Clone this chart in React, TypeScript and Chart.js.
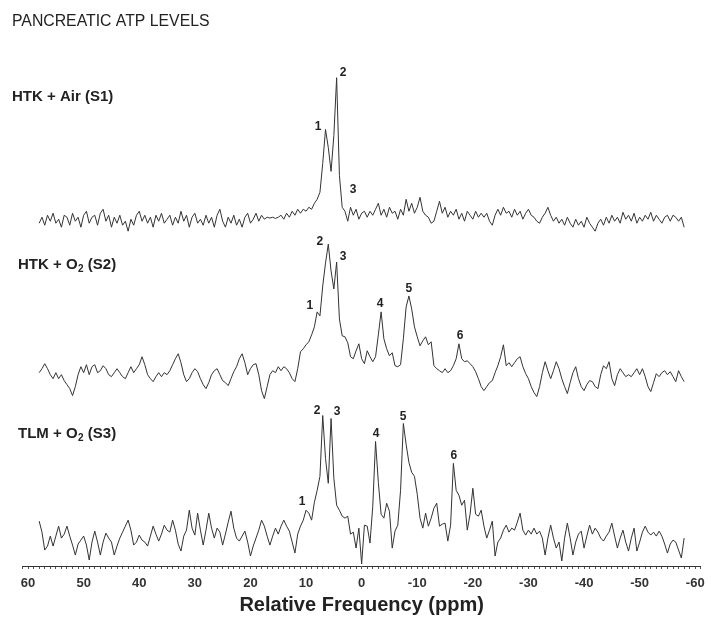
import React, { useEffect, useRef } from "react";
import { Chart, registerables } from "chart.js";

Chart.register(...registerables);

const FONT = '"Liberation Sans", Arial, Helvetica, sans-serif';
const TEXT_COLOR = "#222";
const LINE_COLOR = "#333";

const TITLE = "PANCREATIC ATP LEVELS";
const X_TITLE = "Relative Frequency (ppm)";

// chemical-shift grid: 58 ppm down to -58 ppm, 0.5 ppm apart
const PPM_START = 58;
const PPM_STEP = 0.5;

// intensities (arbitrary units) relative to each spectrum's baseline
const S1 = [
  -1, 0.5, -1.5, 1, -0.5, 1.5, -1, 0, -2, 1, 0.5, -1.5, 1.5, -0.5, 0.5, -2, 1, 2, -1, 0.5,
  1, -1.5, 1.5, 2.5, -0.5, 1, -2, 0.5, -1, 1, -1.5, -0.5, -3, 0, -1.5, 1, 2, -0.5, 1, -1,
  0.5, -2, 1, -0.5, 1.5, -1, 0, 1, -1.5, 0.5, -1, 2, -0.5, 1, -2, 0.5, 1.5, -1, 0, -1.5,
  1, -1, 0.5, -2, 1, 2.5, -0.5, -2, 0.5, -1, 1, -1.5, 0, -2, 0.5, 1.5, -1, 0, 1.5, -0.5,
  1, 0, 0.5, 0.3, 0.5, 0.2, 0.5, 1, 0, 1.5, 0.5, 2, 1, 2.5, 1.5, 2.5, 2, 3, 2.5, 4,
  5, 6.75, 14, 22.5, 18, 12, 21, 35.5, 11, 3, 2, -0.5, 3, 1, 2.5, 0, 1.5, 2, 0.5, 2,
  1, 2.5, 4, 1, 2.5, 0.5, 3, 1.5, 2, 0, 2.5, 1, 5, 2, 4, 1.5, 3, 5.5, 2, 1,
  0.5, -1, -0.5, 2, 4.5, 1.5, 3, 0.5, 2, 1, 2.5, 0, 1.5, -0.5, 2, 1, 0, 2, 0.5, 1.5,
  0.5, 1.5, -0.5, -1.5, 1, 2.5, 1, 3, 1.5, 2, 0.5, 2.5, 1, 2, 0, 1.5, 2.5, 1, 0.5, -0.5,
  -1, 0.5, 1.5, 3, 1, -0.5, 0.5, -1, 0, -1.5, 0.5, -1, -2, 0, -1.5, -0.5, -2, 0.5, -1, -2,
  -3, -1, 0, -1.5, 0.5, -1, 1, -0.5, 0.5, -1, 1.75, 0, 1, -0.5, 1.5, -1, 0.5, -0.5, 1, 0,
  1.75, -0.5, 1, 0, -1, 0.5, 1, -0.5, 1, 0.5, -0.5, 0.5, -2,
];

const S2 = [
  0.5, 1.5, 2.75, 1.5, 0, -1, 0.5, -1, 0, -1.5, -2.5, -3.5, -5.25, -3, 0, 2, 0.5, 2.5, 0, 2,
  2.5, 0.5, 1, 2.25, 1.5, 0, -0.5, 0.5, 1.5, 0.5, -0.5, -1, 0.5, 2, 0.5, 1.5, 2.5, 4.5, 2.5, 0,
  -1, -1.75, -0.5, 0.5, -0.5, 0.5, 0, 1, 2.5, 4, 5.25, 3, 0, -1.75, -1, 0.5, 1.5, 0.75, -1, -2.5,
  -3.5, -2, 0, 1, 1.5, 0, -1.5, -2, -2.75, -1, 0.75, 2, 4, 5.25, 3, 0, 1.5, 2.5, 2.75, 0,
  -4, -6, -3, 0, 1, 0.5, 2, 1, 2, 1.5, 0.5, -1, -1.75, 1.5, 5.75, 6.5, 7.5, 8.25, 10, 12,
  15.75, 14.75, 22.25, 28, 32.75, 26, 21.5, 28.25, 14, 9.75, 9.5, 8, 4.5, 4, 6, 7.75, 4, 2.75, 6, 4.5,
  3.25, 4.5, 10, 15.75, 9, 6.5, 4.75, 5.5, 2.25, 2, 2.5, 9, 17, 19.75, 16.5, 12, 9.5, 7.25, 8.5, 9.5,
  7.5, 8.25, 2.25, 1.5, 1, 0.5, 1.5, 0.5, 1, 2.25, 4, 7.75, 4, 3.25, 3.5, 2.75, 2, 0.75, -1, -3,
  -4, -3, -2, -1.5, 0.5, 2.25, 4.5, 7.5, 2.25, 3, 2, 3, 4, 4.5, 2, 0.25, -1, -3, -4.5, -5.5,
  -3, 0.5, 3.25, 1, -1, 1, 3.25, 1.5, -1, -3, -4.75, -2, 0.5, 2, -1, -3, -4, -2.5, -1.5, -1.75,
  -3, -3.5, 0, 2.25, 1.5, 3.25, -1, -2.75, 0, 1.5, 0.5, -0.5, 0, -0.5, 0.5, 1.5, 0, 1.5, -0.5, -3,
  -4.25, -2, 0.25, -0.5, 0.5, 1, 0, 0.75, -0.5, -1.75, 1, -0.5, -1.75,
];

const S3 = [
  4.25, 1.5, -3, -2, 0.5, -2, 0.5, 3, 0, 1, 3, 0.5, -1.75, -4.25, -1.5, -0.5, 0.5, -1.75, -5.5, -1,
  1.75, -1, -4.25, -1, 1.25, 0, -1, -4.25, -2, 0, 1.5, 3, 4.5, 2, -1.75, -1, 0.75, -0.5, -1, -2,
  0.5, 3, 1, -0.75, 1, 3.25, 2, 1.5, 4.5, 2, -1.5, -3.25, 0.5, 2, 7, 2.5, 0.75, 6.25, 2, -1.75,
  2, 6.25, 2.5, 0, 2.5, 1.5, -1.75, 1, 4, 6.75, 2.5, 0, -0.75, 0.5, 1.75, -1, -4.5, -2, 0, 2,
  4.5, 3, 0.5, -1.75, 0.5, 2.5, 1, 3, 4.5, 3, 1.75, -1, -3.75, 1, 3, 4.5, 7, 6.25, 4.5, 9,
  12, 15.5, 30.75, 20, 13.75, 30, 15, 8.25, 7, 5.5, 5, 5.5, 1, 1.5, -2.5, 2.5, -6.5, 3.25, 3, -1.25,
  8, 24.25, 14, 6, 5, 8.75, 6.75, -2.5, 1.75, 3.25, 12, 28.75, 23.5, 19, 16.5, 15.5, 11, 5, 2.5, 6.25,
  3, 5, 7.5, 8.75, 3, 3.5, 3.75, -0.75, 3.25, 18.75, 12, 10.75, 8.25, 9.5, 2, 6, 12.5, 6, 5.5, 7,
  3, 0, 2, 4.25, -4.5, -1, 0, 2, 3.25, 1.5, 2.5, 2, 4, 6.25, 2, 0.75, 2, 1, 2.5, 1,
  1.75, 0, -4.25, 0, 3.25, 0, -2.5, -1, -5.75, 0, 3.75, 0, -4.25, -1, 1, 1.75, -2.5, 0.5, 3.25, 1,
  2.5, 1.5, 0, -0.75, 0.5, 1.5, 3.75, 0.5, -2.5, 0, 2, -1, -3.25, 0, 2.5, -3.25, -1, 1.5, 3, 1.5,
  0.75, 1.5, 0.5, 1.75, 0.5, -1.5, -3.75, -1.5, -0.5, -1, -3, -5, 0,
];

const SPECTRA = [S1, S2, S3];
// vertical stacking offsets of the three spectra (same units as intensities)
const OFFSETS = [87, 48, 7];
const Y_MAX = 142;

const SPECTRUM_LABELS = [
  { main: "HTK + Air (S1)", sub: "", rest: "" },
  { main: "HTK + O", sub: "2", rest: " (S2)" },
  { main: "TLM + O", sub: "2", rest: " (S3)" },
];

// peak labels: spectrum index, text, ppm, intensity (relative to baseline)
const PEAK_SPECTRUM = [0, 0, 0, 1, 1, 1, 1, 1, 1, 2, 2, 2, 2, 2, 2];
const PEAK_TEXT = ["1", "2", "3", "1", "2", "3", "4", "5", "6", "1", "2", "3", "4", "5", "6"];
const PEAK_PPM = [7.85, 3.35, 1.55, 9.3, 7.5, 3.35, -3.3, -8.5, -17.7, 10.7, 8.0, 4.4, -2.6, -7.45, -16.6];
const PEAK_Y = [23.25, 36.75, 7.5, 17.25, 33.25, 29.5, 17.75, 21.5, 9.75, 9.25, 32, 31.75, 26.25, 30.5, 20.75];

const textPlugin = {
  id: "spectrumTexts",
  afterDraw(chart: any) {
    const ctx = chart.ctx as CanvasRenderingContext2D;
    const xs = chart.scales.x;
    const ys = chart.scales.y;
    ctx.save();
    ctx.fillStyle = TEXT_COLOR;
    ctx.textBaseline = "middle";
    ctx.textAlign = "left";
    ctx.font = `15.8px ${FONT}`;
    ctx.fillText(TITLE, 12, 22);

    const labelPos = [
      [12, 97],
      [18, 265],
      [18, 434],
    ];
    SPECTRUM_LABELS.forEach((l, i) => {
      let [x, y] = labelPos[i];
      ctx.font = `bold 15px ${FONT}`;
      ctx.fillText(l.main, x, y);
      x += ctx.measureText(l.main).width;
      if (l.sub) {
        ctx.font = `bold 10px ${FONT}`;
        ctx.fillText(l.sub, x + 0.5, y + 4);
        x += ctx.measureText(l.sub).width + 0.5;
        ctx.font = `bold 15px ${FONT}`;
        ctx.fillText(l.rest, x, y);
      }
    });

    ctx.font = `bold 12px ${FONT}`;
    ctx.textAlign = "center";
    PEAK_TEXT.forEach((t, i) => {
      const s = PEAK_SPECTRUM[i];
      const px = xs.getPixelForValue(PEAK_PPM[i]);
      const py = ys.getPixelForValue(PEAK_Y[i] + OFFSETS[s]);
      ctx.fillText(t, px, py);
    });
    ctx.restore();
  },
};

export default function App() {
  const ref = useRef<HTMLCanvasElement | null>(null);

  useEffect(() => {
    document.body.style.margin = "0";
    if (!ref.current) return;
    const datasets = SPECTRA.map((s, k) => ({
      data: s.map((v, i) => ({ x: PPM_START - i * PPM_STEP, y: v + OFFSETS[k] })),
      borderColor: LINE_COLOR,
      borderWidth: 1,
      pointRadius: 0,
      tension: 0,
      fill: false,
    }));
    const chart = new Chart(ref.current, {
      type: "line",
      data: { datasets },
      options: {
        animation: false,
        responsive: false,
        maintainAspectRatio: false,
        layout: { padding: { left: 22.5, right: 16.2, top: 0, bottom: 20 } },
        plugins: { legend: { display: false }, tooltip: { enabled: false } },
        scales: {
          x: {
            type: "linear",
            min: -61,
            max: 61,
            reverse: true,
            ticks: {
              stepSize: 1,
              maxTicksLimit: 200,
              autoSkip: false,
              maxRotation: 0,
              padding: 7.5,
              color: "#333",
              font: { family: FONT, size: 13, weight: "bold", lineHeight: 1 },
              callback: (v: any) => (Number(v) % 10 === 0 ? String(v) : ""),
            },
            grid: {
              display: true,
              drawOnChartArea: false,
              drawTicks: true,
              tickLength: 3,
              color: "#555",
              lineWidth: 1,
            },
            border: { display: true, color: "#333", width: 1 },
            title: {
              display: true,
              text: X_TITLE,
              color: TEXT_COLOR,
              font: { family: FONT, size: 20, weight: "bold", lineHeight: 0.8 },
              padding: { top: 0, bottom: 2 },
            },
          },
          y: { display: false, min: 0, max: Y_MAX },
        },
      } as any,
      plugins: [textPlugin],
    });
    return () => chart.destroy();
  }, []);

  return <canvas ref={ref} width={717} height={635} style={{ display: "block", width: 717, height: 635 }} />;
}
